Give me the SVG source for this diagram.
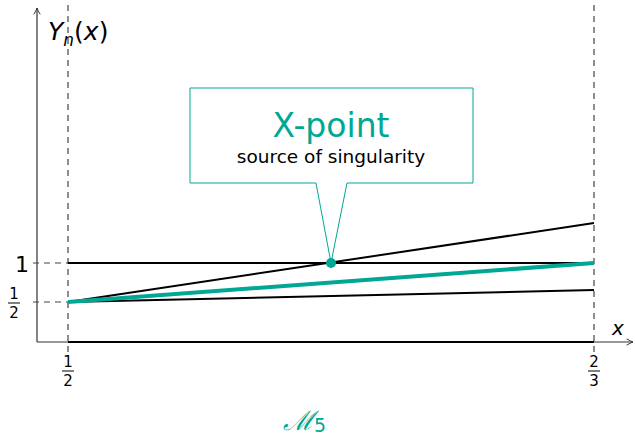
<svg xmlns="http://www.w3.org/2000/svg" width="635" height="435" viewBox="0 0 635 435">
<defs>
<marker id="ar" viewBox="0 0 10 10" refX="9" refY="5" markerWidth="8" markerHeight="8" orient="auto" markerUnits="userSpaceOnUse">
<path d="M1,1 Q6,4 9,5 Q6,6 1,9" fill="none" stroke="#333" stroke-width="1.2"/>
</marker>
<style>
.ax{stroke:#333;stroke-width:1.2;fill:none}
.ds{stroke:#444;stroke-width:1.2;stroke-dasharray:6,5;fill:none}
.ln{stroke:#000;stroke-width:2;fill:none}
.tl{stroke:#00a894;stroke-width:4;fill:none}
.t{font-family:"DejaVu Sans","Liberation Sans",sans-serif;fill:#000}
.m{font-family:"DejaVu Sans","Liberation Sans",sans-serif;fill:#000}
</style>
</defs>
<rect width="635" height="435" fill="#fff"/>
<g id="axes">
<line class="ax" x1="37" y1="342" x2="37" y2="8" marker-end="url(#ar)"/>
<line class="ax" x1="37" y1="342" x2="633" y2="342" marker-end="url(#ar)"/>
<line class="ds" x1="68" y1="5" x2="68" y2="352"/>
<line class="ds" x1="594" y1="5" x2="594" y2="352"/>
<line class="ds" x1="33" y1="263" x2="68" y2="263"/>
<line class="ds" x1="33" y1="302" x2="68" y2="302"/>
</g>
<g id="connectors">
<line class="ln" x1="68" y1="342" x2="594" y2="342"/>
<line class="ln" x1="68" y1="263" x2="594" y2="263"/>
<line class="ln" x1="68" y1="302" x2="594" y2="223"/>
<line class="ln" x1="68" y1="302" x2="594" y2="290"/>
<line class="tl" x1="68" y1="302" x2="594" y2="263"/>
</g>
<g id="callout">
<path d="M190,88 H473 V183 H347 L331,263 L316,183 H190 Z" fill="#fff" stroke="#00a894" stroke-width="1"/>
<circle cx="331" cy="263" r="5" fill="#00a894"/>
<text x="331" y="137" text-anchor="middle" font-family="DejaVu Sans,sans-serif" font-size="33" fill="#00a894">X-point</text>
<text x="331" y="163" text-anchor="middle" class="t" font-size="18.5">source of singularity</text>
</g>
<g id="labels">
<text x="48" y="40" class="m" font-size="25" font-style="italic">Y<tspan font-size="17" dy="6">n</tspan><tspan dy="-6" font-style="normal">(</tspan>x<tspan font-style="normal">)</tspan></text>
<text x="612" y="335" class="m" font-size="20" font-style="italic">x</text>
<text x="15" y="272" class="m" font-size="22">1</text>
<text x="14" y="299" class="m" font-size="15" text-anchor="middle">1</text>
<line x1="8" y1="303" x2="20" y2="303" stroke="#000" stroke-width="1"/>
<text x="14" y="318" class="m" font-size="15" text-anchor="middle">2</text>
<text x="68" y="367" class="m" font-size="15" text-anchor="middle">1</text>
<line x1="62" y1="371" x2="74" y2="371" stroke="#000" stroke-width="1"/>
<text x="68" y="386" class="m" font-size="15" text-anchor="middle">2</text>
<text x="594" y="367" class="m" font-size="15" text-anchor="middle">2</text>
<line x1="588" y1="371" x2="600" y2="371" stroke="#000" stroke-width="1"/>
<text x="594" y="386" class="m" font-size="15" text-anchor="middle">3</text>
<text x="283" y="430" font-family="DejaVu Serif,serif" font-size="27" font-style="italic" fill="#00a894">ℳ<tspan font-family="DejaVu Sans,sans-serif" font-style="normal" font-size="19" dy="2">5</tspan></text>
</g>
</svg>
